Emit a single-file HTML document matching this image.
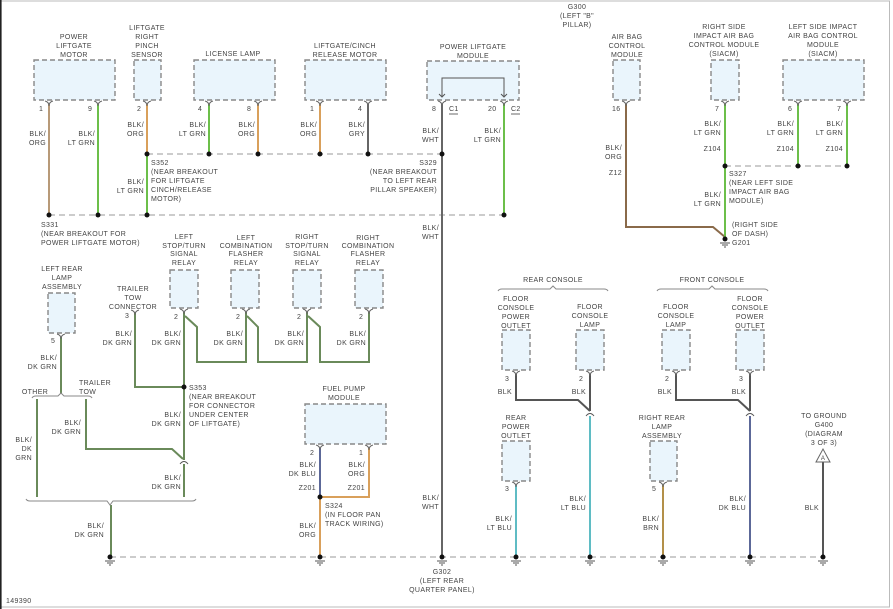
<!DOCTYPE html>
<html><head><meta charset="utf-8"><style>
html,body{margin:0;padding:0;background:#fff}
svg{display:block}
text{font-family:"Liberation Sans",sans-serif;font-size:7px;fill:#444;letter-spacing:0.35px}
.c{text-anchor:middle}.r{text-anchor:end}
.box{fill:#eaf5fc;stroke:#888;stroke-width:1.4;stroke-dasharray:5,3}
.bus{stroke:#999;stroke-width:1;stroke-dasharray:6,4;fill:none}
.w{fill:none;stroke-width:2}
.pin{fill:none;stroke:#666;stroke-width:1}
</style></head><body>
<svg width="893" height="609" viewBox="0 0 893 609" xmlns="http://www.w3.org/2000/svg">
<rect x="0.5" y="1" width="889" height="606" fill="none" stroke="#bbb" stroke-width="1"/>
<line x1="0.8" y1="0" x2="0.8" y2="609" stroke="#222" stroke-width="1.6"/>

<!-- boxes top -->
<rect class="box" x="34" y="60" width="81" height="40"/>
<rect class="box" x="134" y="60" width="27" height="40"/>
<rect class="box" x="194" y="60" width="81" height="40"/>
<rect class="box" x="305" y="60" width="81" height="40"/>
<rect class="box" x="427" y="61" width="92" height="39"/>
<rect class="box" x="613" y="60" width="27" height="40"/>
<rect class="box" x="711" y="60" width="28" height="40"/>
<rect class="box" x="783" y="60" width="81" height="40"/>
<path d="M442 97 V78 H504 V97 M439 94 L442 97 L445 94 M501 94 L504 97 L507 94" fill="none" stroke="#555" stroke-width="1"/>

<!-- middle boxes -->
<rect class="box" x="170" y="270" width="28" height="38"/>
<rect class="box" x="231" y="270" width="28" height="38"/>
<rect class="box" x="293" y="270" width="28" height="38"/>
<rect class="box" x="355" y="270" width="28" height="38"/>
<rect class="box" x="48" y="293" width="27" height="40"/>
<rect class="box" x="305" y="404" width="81" height="40"/>
<rect class="box" x="502" y="330" width="28" height="40"/>
<rect class="box" x="576" y="330" width="28" height="40"/>
<rect class="box" x="662" y="330" width="28" height="40"/>
<rect class="box" x="736" y="330" width="28" height="40"/>
<rect class="box" x="502" y="441" width="28" height="40"/>
<rect class="box" x="650" y="441" width="27" height="40"/>

<!-- buses -->
<line class="bus" x1="147" y1="154" x2="442" y2="154"/>
<line class="bus" x1="49" y1="215" x2="504" y2="215"/>
<line class="bus" x1="725" y1="166" x2="847" y2="166"/>
<line class="bus" x1="110" y1="557" x2="823" y2="557"/>

<!-- wires top -->
<line class="w" x1="49" y1="104" x2="49" y2="215" stroke="#b89a78"/>
<line class="w" x1="98" y1="104" x2="98" y2="215" stroke="#6cbf4a"/>
<line class="w" x1="147" y1="104" x2="147" y2="154" stroke="#d9a05b"/>
<line class="w" x1="147" y1="154" x2="147" y2="215" stroke="#6cbf4a"/>
<line class="w" x1="209" y1="104" x2="209" y2="154" stroke="#6cbf4a"/>
<line class="w" x1="258" y1="104" x2="258" y2="154" stroke="#d9a05b"/>
<line class="w" x1="320" y1="104" x2="320" y2="154" stroke="#d9a05b"/>
<line class="w" x1="368" y1="104" x2="368" y2="154" stroke="#666"/>
<line class="w" x1="442" y1="104" x2="442" y2="557" stroke="#666" stroke-width="1.6"/>
<line class="w" x1="504" y1="104" x2="504" y2="215" stroke="#6cbf4a"/>
<path class="w" d="M626 104 V227 H713 L725 237" stroke="#8a6a4a"/>
<line class="w" x1="725" y1="104" x2="725" y2="237" stroke="#6cbf4a"/>
<line class="w" x1="798" y1="104" x2="798" y2="166" stroke="#6cbf4a"/>
<line class="w" x1="847" y1="104" x2="847" y2="166" stroke="#6cbf4a"/>

<!-- wires middle dk green -->
<g stroke="#6a8a5a" class="w" fill="none">
<path d="M184 312 V460 M184 464 V497"/>
<path d="M185 316 L197 327 V362 H246 V312"/>
<path d="M247 316 L258 327 V362 H307 V312"/>
<path d="M308 316 L320 327 V362 H369 V312"/>
<path d="M135 312 V387 H184"/>
<path d="M61 337 V394"/>
<path d="M37 399 V497"/>
<path d="M86 399 V449 H172 L183 459"/>
<path d="M111 505 V557"/>
</g>
<path d="M180 464 Q184 459 188 464" fill="none" stroke="#555" stroke-width="1"/>
<!-- brackets -->
<path d="M32 398 Q33 396 36 396 H58 L61 393 L64 396 H88 Q91 396 92 398" fill="none" stroke="#888" stroke-width="1"/>
<path d="M26 499 Q27 501 30 501 H107 L110 505 L113 501 H192 Q195 501 196 499" fill="none" stroke="#888" stroke-width="1"/>
<path d="M498 291 Q499 289 502 289 H550 L553 286 L556 289 H604 Q607 289 608 291" fill="none" stroke="#888" stroke-width="1"/>
<path d="M657 291 Q658 289 661 289 H709 L712 286 L715 289 H764 Q767 289 768 291" fill="none" stroke="#888" stroke-width="1"/>

<!-- fuel pump -->
<line class="w" x1="320" y1="448" x2="320" y2="497" stroke="#5c6898"/>
<path class="w" d="M369 448 V497 H320" stroke="#d9a05b"/>
<line class="w" x1="320" y1="497" x2="320" y2="557" stroke="#d9a05b"/>

<!-- right wires -->
<path class="w" d="M516 374 V400 H578 L590 411" stroke="#555" stroke-width="1.6"/>
<line class="w" x1="590" y1="374" x2="590" y2="411" stroke="#555" stroke-width="1.6"/>
<line class="w" x1="590" y1="416" x2="590" y2="557" stroke="#5fbcc4"/>
<path d="M586 416 Q590 411 594 416" fill="none" stroke="#555" stroke-width="1"/>
<path class="w" d="M676 374 V400 H738 L750 411" stroke="#555" stroke-width="1.6"/>
<line class="w" x1="750" y1="374" x2="750" y2="411" stroke="#555" stroke-width="1.6"/>
<line class="w" x1="750" y1="416" x2="750" y2="557" stroke="#5c6898"/>
<path d="M746 416 Q750 411 754 416" fill="none" stroke="#555" stroke-width="1"/>
<line class="w" x1="516" y1="485" x2="516" y2="557" stroke="#5fbcc4"/>
<line class="w" x1="663" y1="485" x2="663" y2="557" stroke="#b39049"/>
<line class="w" x1="823" y1="462" x2="823" y2="557" stroke="#555" stroke-width="1.6"/>
<path d="M816 462 L823 449 L830 462 Z" fill="#fff" stroke="#666" stroke-width="1"/>
<text class="c" x="823" y="460" style="font-size:6px">A</text>

<!-- pin symbols -->
<g class="pin">
<path d="M45 101 Q49 102 49 106 Q49 102 53 101"/>
<path d="M94 101 Q98 102 98 106 Q98 102 102 101"/>
<path d="M143 101 Q147 102 147 106 Q147 102 151 101"/>
<path d="M205 101 Q209 102 209 106 Q209 102 213 101"/>
<path d="M254 101 Q258 102 258 106 Q258 102 262 101"/>
<path d="M316 101 Q320 102 320 106 Q320 102 324 101"/>
<path d="M364 101 Q368 102 368 106 Q368 102 372 101"/>
<path d="M438 101 Q442 102 442 106 Q442 102 446 101"/>
<path d="M500 101 Q504 102 504 106 Q504 102 508 101"/>
<path d="M622 101 Q626 102 626 106 Q626 102 630 101"/>
<path d="M721 101 Q725 102 725 106 Q725 102 729 101"/>
<path d="M794 101 Q798 102 798 106 Q798 102 802 101"/>
<path d="M843 101 Q847 102 847 106 Q847 102 851 101"/>
<path d="M180 309 Q184 310 184 314 Q184 310 188 309"/>
<path d="M242 309 Q246 310 246 314 Q246 310 250 309"/>
<path d="M303 309 Q307 310 307 314 Q307 310 311 309"/>
<path d="M365 309 Q369 310 369 314 Q369 310 373 309"/>
<path d="M131 310 Q135 311 135 315 Q135 311 139 310"/>
<path d="M57 334 Q61 335 61 339 Q61 335 65 334"/>
<path d="M316 445 Q320 446 320 450 Q320 446 324 445"/>
<path d="M365 445 Q369 446 369 450 Q369 446 373 445"/>
<path d="M512 371 Q516 372 516 376 Q516 372 520 371"/>
<path d="M586 371 Q590 372 590 376 Q590 372 594 371"/>
<path d="M672 371 Q676 372 676 376 Q676 372 680 371"/>
<path d="M746 371 Q750 372 750 376 Q750 372 754 371"/>
<path d="M512 482 Q516 483 516 487 Q516 483 520 482"/>
<path d="M659 482 Q663 483 663 487 Q663 483 667 482"/>
</g>

<!-- dots -->
<g fill="#111">
<circle cx="147" cy="154" r="2.5"/><circle cx="209" cy="154" r="2.5"/><circle cx="258" cy="154" r="2.5"/><circle cx="320" cy="154" r="2.5"/><circle cx="368" cy="154" r="2.5"/><circle cx="442" cy="154" r="2.5"/>
<circle cx="49" cy="215" r="2.5"/><circle cx="98" cy="215" r="2.5"/><circle cx="147" cy="215" r="2.5"/><circle cx="504" cy="215" r="2.5"/>
<circle cx="725" cy="166" r="2.5"/><circle cx="798" cy="166" r="2.5"/><circle cx="847" cy="166" r="2.5"/>
<circle cx="184" cy="387" r="2.5"/><circle cx="320" cy="497" r="2.5"/>
<circle cx="725" cy="239" r="2.5"/>
</g>
<!-- grounds -->
<g stroke="#555" stroke-width="1">
<path d="M720 243 H730 M722 245 H728 M724 247 H726"/>
</g>
<g id="gnds" fill="#111" stroke="#555" stroke-width="1">
<circle cx="110" cy="557" r="2.5" stroke="none"/><path d="M105 561 H115 M107 563 H113 M109 565 H111"/>
<circle cx="320" cy="557" r="2.5" stroke="none"/><path d="M315 561 H325 M317 563 H323 M319 565 H321"/>
<circle cx="442" cy="557" r="2.5" stroke="none"/><path d="M437 561 H447 M439 563 H445 M441 565 H443"/>
<circle cx="516" cy="557" r="2.5" stroke="none"/><path d="M511 561 H521 M513 563 H519 M515 565 H517"/>
<circle cx="590" cy="557" r="2.5" stroke="none"/><path d="M585 561 H595 M587 563 H593 M589 565 H591"/>
<circle cx="663" cy="557" r="2.5" stroke="none"/><path d="M658 561 H668 M660 563 H666 M662 565 H664"/>
<circle cx="750" cy="557" r="2.5" stroke="none"/><path d="M745 561 H755 M747 563 H753 M749 565 H751"/>
<circle cx="823" cy="557" r="2.5" stroke="none"/><path d="M818 561 H828 M820 563 H826 M822 565 H824"/>
</g>

<!-- TOP LABELS -->
<text class="c" x="74" y="39">POWER</text><text class="c" x="74" y="48">LIFTGATE</text><text class="c" x="74" y="57">MOTOR</text>
<text class="c" x="147" y="30">LIFTGATE</text><text class="c" x="147" y="39">RIGHT</text><text class="c" x="147" y="48">PINCH</text><text class="c" x="147" y="57">SENSOR</text>
<text class="c" x="233" y="56">LICENSE LAMP</text>
<text class="c" x="345" y="48">LIFTGATE/CINCH</text><text class="c" x="345" y="57">RELEASE MOTOR</text>
<text class="c" x="473" y="49">POWER LIFTGATE</text><text class="c" x="473" y="58">MODULE</text>
<text class="c" x="577" y="9">G300</text><text class="c" x="577" y="18">(LEFT "B"</text><text class="c" x="577" y="27">PILLAR)</text>
<text class="c" x="627" y="39">AIR BAG</text><text class="c" x="627" y="48">CONTROL</text><text class="c" x="627" y="57">MODULE</text>
<text class="c" x="724" y="29">RIGHT SIDE</text><text class="c" x="724" y="38">IMPACT AIR BAG</text><text class="c" x="724" y="47">CONTROL MODULE</text><text class="c" x="724" y="56">(SIACM)</text>
<text class="c" x="823" y="29">LEFT SIDE IMPACT</text><text class="c" x="823" y="38">AIR BAG CONTROL</text><text class="c" x="823" y="47">MODULE</text><text class="c" x="823" y="56">(SIACM)</text>

<!-- pin numbers -->
<text x="39" y="111">1</text><text x="88" y="111">9</text><text x="137" y="111">2</text><text x="198" y="111">4</text><text x="247" y="111">8</text><text x="310" y="111">1</text><text x="358" y="111">4</text><text x="432" y="111">8</text>
<text x="449" y="111">C1</text><line x1="449" y1="114" x2="458" y2="114" stroke="#444" stroke-width="0.8"/>
<text x="488" y="111">20</text>
<text x="511" y="111">C2</text><line x1="511" y1="114" x2="520" y2="114" stroke="#444" stroke-width="0.8"/>
<text x="612" y="111">16</text><text x="715" y="111">7</text><text x="788" y="111">6</text><text x="837" y="111">7</text>

<!-- wire labels top -->
<text class="r" x="46" y="136">BLK/</text><text class="r" x="46" y="145">ORG</text>
<text class="r" x="95" y="136">BLK/</text><text class="r" x="95" y="145">LT GRN</text>
<text class="r" x="144" y="127">BLK/</text><text class="r" x="144" y="136">ORG</text>
<text class="r" x="206" y="127">BLK/</text><text class="r" x="206" y="136">LT GRN</text>
<text class="r" x="255" y="127">BLK/</text><text class="r" x="255" y="136">ORG</text>
<text class="r" x="317" y="127">BLK/</text><text class="r" x="317" y="136">ORG</text>
<text class="r" x="365" y="127">BLK/</text><text class="r" x="365" y="136">GRY</text>
<text class="r" x="439" y="133">BLK/</text><text class="r" x="439" y="142">WHT</text>
<text class="r" x="501" y="133">BLK/</text><text class="r" x="501" y="142">LT GRN</text>
<text class="r" x="144" y="184">BLK/</text><text class="r" x="144" y="193">LT GRN</text>
<text x="151" y="165">S352</text><text x="151" y="174">(NEAR BREAKOUT</text><text x="151" y="183">FOR LIFTGATE</text><text x="151" y="192">CINCH/RELEASE</text><text x="151" y="201">MOTOR)</text>
<text class="r" x="437" y="165">S329</text><text class="r" x="437" y="174">(NEAR BREAKOUT</text><text class="r" x="437" y="183">TO LEFT REAR</text><text class="r" x="437" y="192">PILLAR SPEAKER)</text>
<text x="41" y="227">S331</text><text x="41" y="236">(NEAR BREAKOUT FOR</text><text x="41" y="245">POWER LIFTGATE MOTOR)</text>
<text class="r" x="439" y="230">BLK/</text><text class="r" x="439" y="239">WHT</text>
<text class="r" x="622" y="150">BLK/</text><text class="r" x="622" y="159">ORG</text><text class="r" x="622" y="175">Z12</text>
<text class="r" x="721" y="126">BLK/</text><text class="r" x="721" y="135">LT GRN</text><text class="r" x="721" y="151">Z104</text>
<text class="r" x="794" y="126">BLK/</text><text class="r" x="794" y="135">LT GRN</text><text class="r" x="794" y="151">Z104</text>
<text class="r" x="843" y="126">BLK/</text><text class="r" x="843" y="135">LT GRN</text><text class="r" x="843" y="151">Z104</text>
<text x="729" y="176">S327</text><text x="729" y="185">(NEAR LEFT SIDE</text><text x="729" y="194">IMPACT AIR BAG</text><text x="729" y="203">MODULE)</text>
<text class="r" x="721" y="197">BLK/</text><text class="r" x="721" y="206">LT GRN</text>
<text x="732" y="227">(RIGHT SIDE</text><text x="732" y="236">OF DASH)</text><text x="732" y="245">G201</text>

<!-- middle labels -->
<text class="c" x="184" y="239">LEFT</text><text class="c" x="184" y="248">STOP/TURN</text><text class="c" x="184" y="256">SIGNAL</text><text class="c" x="184" y="265">RELAY</text>
<text class="c" x="246" y="240">LEFT</text><text class="c" x="246" y="248">COMBINATION</text><text class="c" x="246" y="256">FLASHER</text><text class="c" x="246" y="265">RELAY</text>
<text class="c" x="307" y="239">RIGHT</text><text class="c" x="307" y="248">STOP/TURN</text><text class="c" x="307" y="256">SIGNAL</text><text class="c" x="307" y="265">RELAY</text>
<text class="c" x="368" y="240">RIGHT</text><text class="c" x="368" y="248">COMBINATION</text><text class="c" x="368" y="256">FLASHER</text><text class="c" x="368" y="265">RELAY</text>
<text class="c" x="62" y="271">LEFT REAR</text><text class="c" x="62" y="280">LAMP</text><text class="c" x="62" y="289">ASSEMBLY</text>
<text class="c" x="133" y="291">TRAILER</text><text class="c" x="133" y="300">TOW</text><text class="c" x="133" y="309">CONNECTOR</text>
<text x="125" y="318">3</text>
<text x="174" y="319">2</text><text x="236" y="319">2</text><text x="297" y="319">2</text><text x="359" y="319">2</text>
<text class="r" x="132" y="336">BLK/</text><text class="r" x="132" y="345">DK GRN</text>
<text class="r" x="181" y="336">BLK/</text><text class="r" x="181" y="345">DK GRN</text>
<text class="r" x="243" y="336">BLK/</text><text class="r" x="243" y="345">DK GRN</text>
<text class="r" x="304" y="336">BLK/</text><text class="r" x="304" y="345">DK GRN</text>
<text class="r" x="366" y="336">BLK/</text><text class="r" x="366" y="345">DK GRN</text>
<text x="51" y="343">5</text>
<text class="r" x="57" y="360">BLK/</text><text class="r" x="57" y="369">DK GRN</text>
<text class="c" x="35" y="394">OTHER</text>
<text x="79" y="385">TRAILER</text><text x="79" y="394">TOW</text>
<text x="189" y="390">S353</text><text x="189" y="399">(NEAR BREAKOUT</text><text x="189" y="408">FOR CONNECTOR</text><text x="189" y="417">UNDER CENTER</text><text x="189" y="426">OF LIFTGATE)</text>
<text class="r" x="181" y="417">BLK/</text><text class="r" x="181" y="426">DK GRN</text>
<text class="r" x="81" y="425">BLK/</text><text class="r" x="81" y="434">DK GRN</text>
<text class="r" x="32" y="442">BLK/</text><text class="r" x="32" y="451">DK</text><text class="r" x="32" y="460">GRN</text>
<text class="r" x="181" y="480">BLK/</text><text class="r" x="181" y="489">DK GRN</text>
<text class="r" x="104" y="528">BLK/</text><text class="r" x="104" y="537">DK GRN</text>
<text class="c" x="344" y="391">FUEL PUMP</text><text class="c" x="344" y="400">MODULE</text>
<text x="310" y="455">2</text><text x="359" y="455">1</text>
<text class="r" x="316" y="467">BLK/</text><text class="r" x="316" y="476">DK BLU</text><text class="r" x="316" y="490">Z201</text>
<text class="r" x="365" y="467">BLK/</text><text class="r" x="365" y="476">ORG</text><text class="r" x="365" y="490">Z201</text>
<text x="325" y="508">S324</text><text x="325" y="517">(IN FLOOR PAN</text><text x="325" y="526">TRACK WIRING)</text>
<text class="r" x="316" y="528">BLK/</text><text class="r" x="316" y="537">ORG</text>
<text class="r" x="439" y="500">BLK/</text><text class="r" x="439" y="509">WHT</text>
<text class="c" x="442" y="574">G302</text><text class="c" x="442" y="583">(LEFT REAR</text><text class="c" x="442" y="592">QUARTER PANEL)</text>
<text x="6" y="603">149390</text>

<!-- right labels -->
<text class="c" x="553" y="282">REAR CONSOLE</text><text class="c" x="712" y="282">FRONT CONSOLE</text>
<text class="c" x="516" y="301">FLOOR</text><text class="c" x="516" y="310">CONSOLE</text><text class="c" x="516" y="319">POWER</text><text class="c" x="516" y="328">OUTLET</text>
<text class="c" x="590" y="309">FLOOR</text><text class="c" x="590" y="318">CONSOLE</text><text class="c" x="590" y="327">LAMP</text>
<text class="c" x="676" y="309">FLOOR</text><text class="c" x="676" y="318">CONSOLE</text><text class="c" x="676" y="327">LAMP</text>
<text class="c" x="750" y="301">FLOOR</text><text class="c" x="750" y="310">CONSOLE</text><text class="c" x="750" y="319">POWER</text><text class="c" x="750" y="328">OUTLET</text>
<text x="505" y="381">3</text><text x="579" y="381">2</text><text x="665" y="381">2</text><text x="739" y="381">3</text>
<text class="r" x="512" y="394">BLK</text><text class="r" x="586" y="394">BLK</text><text class="r" x="672" y="394">BLK</text><text class="r" x="746" y="394">BLK</text>
<text class="c" x="516" y="420">REAR</text><text class="c" x="516" y="429">POWER</text><text class="c" x="516" y="438">OUTLET</text>
<text class="c" x="662" y="420">RIGHT REAR</text><text class="c" x="662" y="429">LAMP</text><text class="c" x="662" y="438">ASSEMBLY</text>
<text class="c" x="824" y="418">TO GROUND</text><text class="c" x="824" y="427">G400</text><text class="c" x="824" y="436">(DIAGRAM</text><text class="c" x="824" y="445">3 OF 3)</text>
<text x="505" y="491">3</text><text x="652" y="491">5</text>
<text class="r" x="512" y="521">BLK/</text><text class="r" x="512" y="530">LT BLU</text>
<text class="r" x="586" y="501">BLK/</text><text class="r" x="586" y="510">LT BLU</text>
<text class="r" x="659" y="521">BLK/</text><text class="r" x="659" y="530">BRN</text>
<text class="r" x="746" y="501">BLK/</text><text class="r" x="746" y="510">DK BLU</text>
<text class="r" x="819" y="510">BLK</text>
</svg>
</body></html>
